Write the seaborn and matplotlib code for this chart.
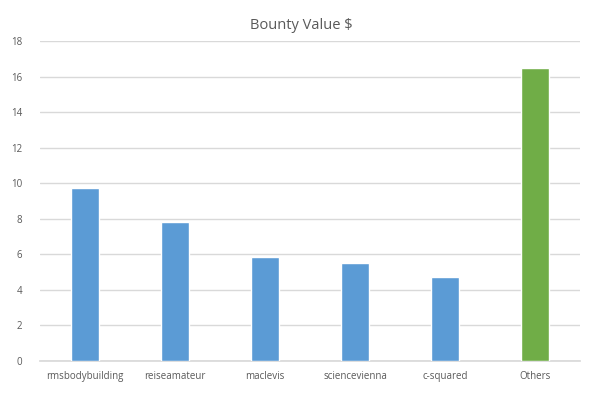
import matplotlib
matplotlib.use("Agg")
import matplotlib.pyplot as plt
import seaborn as sns
import pandas as pd

categories = ["rmsbodybuilding", "reiseamateur", "maclevis", "sciencevienna", "c-squared", "Others"]
bounty_values = [9.75, 7.8, 5.85, 5.5, 4.7, 16.5]
bar_colors = ["#5B9BD5", "#5B9BD5", "#5B9BD5", "#5B9BD5", "#5B9BD5", "#70AD47"]
y_ticks = [0, 2, 4, 6, 8, 10, 12, 14, 16, 18]

sns.set_theme(style="white")
plt.rcParams["font.family"] = ["Open Sans", "DejaVu Sans"]

df = pd.DataFrame({"User": categories, "Value": bounty_values})

fig = plt.figure(figsize=(6.02, 3.96), dpi=100)
ax = fig.add_axes([40 / 602, 1 - 361 / 396, 540 / 602, 320 / 396])

sns.barplot(data=df, x="User", y="Value", hue="User", palette=bar_colors,
            width=0.31, legend=False, saturation=1, ax=ax, zorder=3)

ax.set_ylim(0, 18)
ax.set_xlim(-0.5, len(categories) - 0.5)
ax.set_yticks(y_ticks)
ax.yaxis.grid(True, color="#D9D9D9", linewidth=1, zorder=0)
ax.set_axisbelow(True)
for s in ["top", "right", "left"]:
    ax.spines[s].set_visible(False)
ax.spines["bottom"].set_color("#D9D9D9")
ax.tick_params(axis="both", length=0, labelsize=7, colors="#595959")
ax.tick_params(axis="y", pad=13)
ax.tick_params(axis="x", pad=7)
ax.set_xlabel("")
ax.set_ylabel("")

fig.suptitle("Bounty Value $", y=0.955, fontsize=10.5, color="#595959")

fig.savefig("out.png", dpi=100)
